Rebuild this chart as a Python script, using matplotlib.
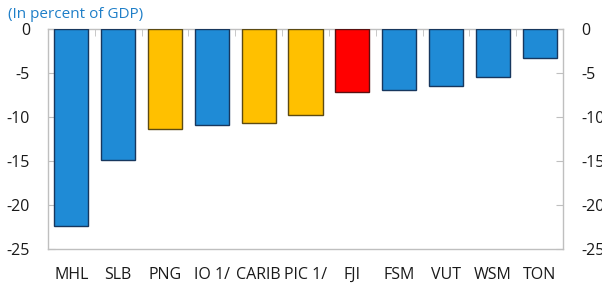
import numpy as np
import matplotlib.pyplot as plt

countries = ["MHL", "SLB", "PNG", "IO 1/", "CARIB", "PIC 1/", "FJI", "FSM", "VUT", "WSM", "TON"]
balance = [-22.4, -14.9, -11.4, -10.9, -10.65, -9.8, -7.2, -6.95, -6.5, -5.4, -3.3]
group = ["c", "c", "g", "c", "g", "g", "f", "c", "c", "c", "c"]

fills = {"c": "#1f8bd6", "g": "#ffc000", "f": "#ff0000"}
edges = {"c": "#17375e", "g": "#5c4a12", "f": "#5a1010"}

plt.rcParams["font.family"] = ["Open Sans", "DejaVu Sans"]

fig = plt.figure(figsize=(6.02, 2.85), dpi=100)
ax = fig.add_axes([48 / 602, 1 - 249 / 285, 515 / 602, 220 / 285])

x = np.arange(len(countries))
ax.bar(x, balance, width=0.73,
       color=[fills[g] for g in group],
       edgecolor=[edges[g] for g in group],
       linewidth=1.0, zorder=3)

ax.set_xlim(-0.5, len(countries) - 0.5)
ax.set_ylim(-25, 0)
ax.set_yticks([0, -5, -10, -15, -20, -25])
ax.set_yticklabels(["0", "-5", "-10", "-15", "-20", "-25"])
ax.set_xticks(x)
ax.set_xticklabels(countries)
ax.set_xticks(x[:-1] + 0.5, minor=True)

for s in ["left", "right", "bottom", "top"]:
    ax.spines[s].set_color("#bfbfbf")
    ax.spines[s].set_linewidth(1.0)

ax.tick_params(axis="x", which="major", length=0, pad=13, labelsize=11.5, colors="#1a1a1a")
ax.tick_params(axis="x", which="minor", bottom=False, top=True, direction="in",
               length=5, color="#bfbfbf")
ax.tick_params(axis="y", left=True, right=True, labelleft=True, labelright=True,
               direction="in", length=5, color="#bfbfbf", labelsize=11.5,
               labelcolor="#1a1a1a", pad=13)

fig.text(8 / 602, 1 - 14 / 285, "(In percent of GDP)", color="#1f7fc8",
         fontsize=11, va="center", ha="left")

fig.savefig("out.png", dpi=100)
